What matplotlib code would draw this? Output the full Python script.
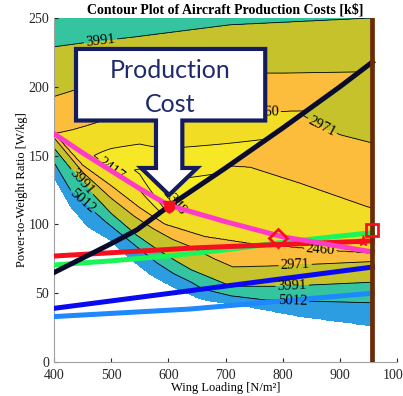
import numpy as np
import matplotlib.pyplot as plt
from matplotlib.patches import Polygon

plt.rcParams['font.family'] = ['Liberation Serif', 'DejaVu Serif']

# ============================================================
# COST CONTOURS  (wing loading [N/m^2] -> power-to-weight [W/kg])
# ============================================================

LEVELS = [2348, 2377, 2417, 2460, 2971, 3991, 5012]
BOUNDS = [2300] + LEVELS + [7100]
BAND_COLORS = ['#f8f51c', '#f7ef20', '#f6e825', '#f2dd25',
               '#fbbd3b', '#c5c22c', '#34c4a0', '#2c9de0']

# lower family of contours (shared by both sizing regimes)
edge_w = [400, 430, 460, 500, 530, 570, 610, 660, 740, 830, 957]
edge_p = [134, 112, 98, 88, 76, 63, 54, 45, 40, 33, 26]
lo5012_w = [400, 430, 490, 520, 550, 580, 610, 640, 660, 710, 770, 957]
lo5012_p = [145, 124, 102, 92, 82, 72, 64, 58, 53, 48, 45, 43]
lo3991_w = [400, 450, 500, 545, 580, 615, 640, 710, 800, 957]
lo3991_p = [155.5, 130, 108, 92, 82, 73, 67, 55, 55, 58]
lo2971_w = [400, 450, 500, 540, 573, 608, 638, 680, 713, 800, 957]
lo2971_p = [163, 138, 119, 106, 97, 89, 84, 75, 69, 70, 73]
lo2460_w = [400, 450, 500, 550, 594, 664, 743, 800, 880, 957]
lo2460_p = [166, 143, 128, 112, 100, 91, 86, 84, 81, 79]

# regime above the black constraint
valA_w = [400, 470, 500, 550, 600, 700, 800, 957]
valA_p = [166, 150, 146, 138, 112, 130, 150, 170]
minA_w = [400, 470, 500, 550, 600, 650, 700, 800, 957]
minA_c = [2460, 2417, 2398, 2372, 2342, 2352, 2362, 2385, 2425]
upA2460_w = [400, 433, 458, 481, 600, 778, 957]
upA2460_p = [166, 169, 172, 175, 180, 182, 184]
upA2971_w = [400, 446, 516, 600, 700, 800, 957]
upA2971_p = [193, 199, 208, 209, 210, 210, 211]
upA3991_w = [400, 463, 538, 708, 957]
upA3991_p = [229, 232.5, 236, 245, 250]

# regime below the black constraint
valB_w = [545, 600, 700, 800, 957]
valB_p = [125, 118, 112, 107, 95]
minB_c = [2440, 2435, 2432, 2435, 2440]
upB2460_w = [545, 690, 743, 831, 948, 957]
upB2460_p = [150, 143, 141.7, 130, 113, 112]
upB2971_w = [545, 780, 824, 869, 901, 948, 957]
upB2971_p = [200, 200, 182, 171, 165, 160, 159]

# where each contour level gets its inline label
LABEL_SPOTS = {
    3991: [(481, 234), (452, 132), (817, 52)],
    5012: [(451, 117), (817, 40)],
    2971: [(869, 171), (822, 68)],
    2460: [(768, 182), (866, 80)],
    2417: [(500, 140)],
    2348: [(650, 128)],
}

# ============================================================
# CONSTRAINT LINES AND DESIGN POINTS
# ============================================================

black_w = [400, 500, 545, 600, 700, 800, 900, 957]
black_p = [65, 86, 96, 113, 141, 170, 200, 218]
pink_w = [400, 450, 500, 550, 600, 700, 800, 900, 957]
pink_p = [166, 152, 139, 126, 114, 102, 91, 84, 80]
red_w = [400, 650, 957]
red_p = [77, 83, 88]
green_w = [400, 500, 600, 700, 800, 900, 957]
green_p = [70.5, 73.5, 77, 81.5, 87, 91.5, 94]
blue_w = [400, 957]
blue_p = [39, 69]
ltblue_w = [400, 638, 957]
ltblue_p = [33, 38.5, 50]
max_wing_loading = 957

opt_point = (601, 113)
diamond_point = (792, 90)
star_point = (941, 88)
square_point = (957, 96)


def profile(p_grid, lower, valley, upper):
    """Piecewise-linear cost along one column, V-shaped about the valley."""
    pv, cv = valley
    nodes = [(p, c) for p, c in lower if p < pv and c > cv]
    nodes.append((pv, cv))
    nodes += [(p, c) for p, c in upper if p > pv and c > cv]
    nodes.sort()
    ps, cs = zip(*nodes)
    return np.interp(p_grid, ps, cs)


wl = np.linspace(400, max_wing_loading, 560)
pw = np.linspace(0, 250, 600)
cost = np.full((pw.size, wl.size), np.nan)

for j, w in enumerate(wl):
    f = lambda ws, ps: float(np.interp(w, ws, ps))
    lower = [(f(edge_w, edge_p), 7000), (f(lo5012_w, lo5012_p), 5012),
             (f(lo3991_w, lo3991_p), 3991), (f(lo2971_w, lo2971_p), 2971),
             (f(lo2460_w, lo2460_p), 2460)]
    upper_a = [(f(upA2460_w, upA2460_p), 2460), (f(upA2971_w, upA2971_p), 2971),
               (f(upA3991_w, upA3991_p), 3991), (300, 4600)]
    upper_b = [(f(upB2460_w, upB2460_p), 2460), (f(upB2971_w, upB2971_p), 2971),
               (400, 3500)]
    col_a = profile(pw, lower, (f(valA_w, valA_p), f(minA_w, minA_c)), upper_a)
    col_b = profile(pw, lower, (f(valB_w, valB_p), f(valB_w, minB_c)), upper_b)
    col = np.where(pw >= f(black_w, black_p), col_a, col_b)
    col[pw < lower[0][0]] = np.nan
    cost[:, j] = col

# ============================================================
# PLOT
# ============================================================

fig = plt.figure(figsize=(4.03, 3.96), dpi=100)
ax = fig.add_axes([54 / 403, 1 - 362 / 396, 343 / 403, 344 / 396])
ax.set_xlim(400, 1000)
ax.set_ylim(0, 250)

ax.contourf(wl, pw, cost, levels=BOUNDS, colors=BAND_COLORS, zorder=1)
for lv in LEVELS:
    cl = ax.contour(wl, pw, cost, levels=[lv], colors='k', linewidths=0.6, zorder=2)
    if lv in LABEL_SPOTS:
        cl.clabel(fmt='%d', fontsize=10.5, inline=True, inline_spacing=2,
                  manual=LABEL_SPOTS[lv])

lw = 3.6
ax.plot(ltblue_w, ltblue_p, color='#1e88ff', lw=lw, zorder=3)
ax.plot(blue_w, blue_p, color='#0a0af0', lw=lw, zorder=3)
ax.plot(green_w, green_p, color='#1af55a', lw=lw, zorder=3)
ax.plot(red_w, red_p, color='#f51020', lw=lw, zorder=3)
ax.plot(black_w, black_p, color='#0a0a2a', lw=lw, zorder=4)
ax.plot(pink_w, pink_p, color='#ff3cc8', lw=lw, zorder=4)
ax.axvline(max_wing_loading, color='#6b2a08', lw=3.4, zorder=5)

ax.plot(*opt_point, marker='v', color='#f51020', ms=9, zorder=6)
ax.plot(*opt_point, marker='o', color='#f51020', ms=7, zorder=6)
ax.plot(*diamond_point, marker='D', mfc='none', mec='#f51020', mew=2, ms=9.5, zorder=6)
ax.plot(*star_point, marker='*', color='#f51020', ms=8, zorder=6)
ax.plot(*square_point, marker='s', mfc='none', mec='#f51020', mew=2, ms=8, zorder=6)

# callout box with down arrow pointing at the optimum
callout = [(438.5, 227.5), (769.5, 227.5), (769.5, 175.5), (624.5, 175.5),
           (624.5, 141), (650.4, 141), (601.4, 121.4), (552.4, 141),
           (578.4, 141), (578.4, 175.5), (438.5, 175.5)]
ax.add_patch(Polygon(callout, closed=True, facecolor='white', edgecolor='#141c5e',
                     lw=3, joinstyle='miter', zorder=10))
ax.text(603, 206.4, 'Production', ha='center', va='baseline', color='#1f2a6e',
        family='Lato', fontsize=18, zorder=11)
ax.text(603, 181.7, 'Cost', ha='center', va='baseline', color='#1f2a6e',
        family='Lato', fontsize=18, zorder=11)

ax.set_xticks(range(400, 1001, 100))
ax.set_yticks(range(0, 251, 50))
ax.tick_params(direction='in', length=3, labelsize=10, colors='#262626')
ax.tick_params(axis='x', pad=5)
for side in ('top', 'right'):
    ax.spines[side].set_visible(False)
for side in ('left', 'bottom'):
    ax.spines[side].set_color('#a0a0a0')

ax.set_title('Contour Plot of Aircraft Production Costs [k\\$]',
             fontsize=10, fontweight='bold', pad=3)
ax.set_xlabel('Wing Loading [N/m²]', fontsize=9, labelpad=0)
ax.set_ylabel('Power-to-Weight Ratio [W/kg]', fontsize=9, labelpad=0)

fig.savefig('out.png', dpi=100)
